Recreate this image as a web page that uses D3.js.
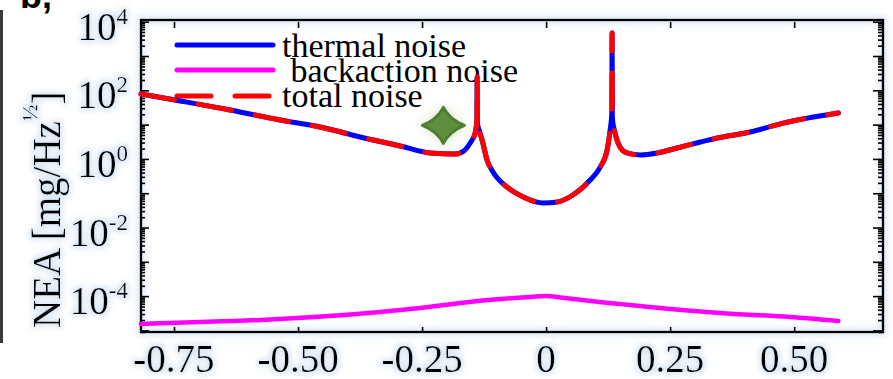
<!DOCTYPE html>
<html><head><meta charset="utf-8">
<script src="https://cdn.jsdelivr.net/npm/d3@7/dist/d3.min.js"></script>
<style>
html,body{margin:0;padding:0;background:#fff;}
svg{display:block;}
text{font-family:"Liberation Serif","Times New Roman",serif;fill:#000;}
</style></head>
<body>
<svg id="chart" width="893" height="379"></svg>
<script>
// ---- data ----
const detuning = [-0.8165,-0.748,-0.637,-0.536,-0.456,-0.375,-0.294,-0.234,-0.183,-0.169,-0.153,-0.143,-0.1395,-0.139,-0.1385,-0.134,-0.129,-0.119,-0.107,-0.079,-0.046,-0.006,0.022,0.054,0.089,0.109,0.123,0.129,0.1325,0.133,0.1335,0.139,0.149,0.163,0.190,0.224,0.264,0.345,0.411,0.478,0.589];
const thermalNoise = [78.2,52.2,26.7,13.6,8.5,4.36,2.38,1.49,1.39,1.59,2.91,5.70,13.6,244,11,6.2,3.56,0.93,0.415,0.152,0.0776,0.0519,0.0555,0.0887,0.243,0.581,1.82,6.97,21.8,4690,15,5.70,2.23,1.49,1.30,1.49,2.08,4.07,6.10,11.1,21.8];
const totalNoise = [78.2,52.2,26.7,13.6,8.5,4.36,2.38,1.49,1.39,1.59,2.91,5.70,13.6,244,11,6.2,3.56,0.93,0.415,0.152,0.0776,0.0519,0.0555,0.0887,0.243,0.581,1.82,6.97,21.8,4690,15,5.70,2.23,1.49,1.30,1.49,2.08,4.07,6.10,11.1,21.8];
const backDetuning = [-0.8165,-0.335,-0.254,-0.173,-0.093,-0.032,0,0.038,0.089,0.169,0.250,0.351,0.492,0.589];
const backactionNoise = [1.54e-5,3.44e-5,4.50e-5,6.31e-5,8.24e-5,9.42e-5,1.007e-4,8.81e-5,7.19e-5,5.50e-5,4.21e-5,3.22e-5,2.46e-5,1.88e-5];
const xTicks = [-0.75,-0.5,-0.25,0,0.25,0.5];
const xTickLabels = ["-0.75","-0.50","-0.25","0","0.25","0.50"];
const yLabelExps = [4,2,0,-2,-4];
const seriesNames = ["thermal noise"," backaction noise","total noise"];
const markerPoint = [-0.207, 9.5];

// ---- layout ----
const svg = d3.select("#chart");
const L = 141, R = 883, T = 20, B = 332;
const x = d3.scaleLinear().domain([-0.8165, 0.679]).range([L, R]);
const y = d3.scaleLog().domain([Math.pow(10,-5.046), Math.pow(10,4.05)]).range([B, T]);

const defs = svg.append("defs");
const glow = defs.append("filter").attr("id","glow").attr("x","-20%").attr("y","-30%").attr("width","140%").attr("height","160%");
glow.append("feMorphology").attr("in","SourceAlpha").attr("operator","dilate").attr("radius",2).attr("result","d");
glow.append("feGaussianBlur").attr("in","d").attr("stdDeviation",3).attr("result","b");
glow.append("feFlood").attr("flood-color","#c9dbef").attr("flood-opacity",0.75);
glow.append("feComposite").attr("in2","b").attr("operator","in").attr("result","g");
const gm = glow.append("feMerge");
gm.append("feMergeNode").attr("in","g");
gm.append("feMergeNode").attr("in","SourceGraphic");

const starGlow = defs.append("filter").attr("id","sglow").attr("x","-80%").attr("y","-80%").attr("width","260%").attr("height","260%");
starGlow.append("feGaussianBlur").attr("in","SourceAlpha").attr("stdDeviation",6).attr("result","b");
starGlow.append("feFlood").attr("flood-color","#9dbb7a").attr("flood-opacity",0.45);
starGlow.append("feComposite").attr("in2","b").attr("operator","in").attr("result","g");
const sm = starGlow.append("feMerge");
sm.append("feMergeNode").attr("in","g");
sm.append("feMergeNode").attr("in","SourceGraphic");

// left panel bar and panel letter
svg.append("rect").attr("x",0).attr("y",10).attr("width",3).attr("height",333).attr("fill","#3a3a3a");
svg.append("text").attr("x",20).attr("y",8).attr("font-size",36).attr("font-weight","bold")
  .style("font-family","'Liberation Sans',Arial,sans-serif").text("b,");

// frame
svg.append("rect").attr("x",L).attr("y",T).attr("width",R-L).attr("height",B-T)
  .attr("fill","none").attr("stroke","#000").attr("stroke-width",2.5).attr("filter","url(#glow)");

// axes ticks
const decades = d3.range(-5,5).map(e=>Math.pow(10,e)).filter(v=>v>=y.domain()[0]&&v<=y.domain()[1]);
const minors = [];
for (let e=-6;e<=4;e++) for (let k=2;k<=9;k++){const v=k*Math.pow(10,e); if(v>=y.domain()[0]&&v<=y.domain()[1]) minors.push(v);}
const tickStyle = g => { g.select(".domain").remove(); g.selectAll("line").attr("stroke","#000").attr("stroke-width",1.6); g.selectAll("text").remove(); };
svg.append("g").attr("transform",`translate(${L},0)`).call(d3.axisLeft(y).tickValues(decades).tickSize(-8)).call(tickStyle);
svg.append("g").attr("transform",`translate(${L},0)`).call(d3.axisLeft(y).tickValues(minors).tickSize(-4)).call(tickStyle);
svg.append("g").attr("transform",`translate(${R},0)`).call(d3.axisRight(y).tickValues(decades).tickSize(-10)).call(tickStyle);
svg.append("g").attr("transform",`translate(${R},0)`).call(d3.axisRight(y).tickValues(minors).tickSize(-5)).call(tickStyle);
svg.append("g").attr("transform",`translate(0,${B})`).call(d3.axisBottom(x).tickValues(xTicks).tickSize(-5)).call(tickStyle);
svg.append("g").attr("transform",`translate(0,${T+2})`).call(d3.axisTop(x).tickValues(xTicks).tickSize(-6)).call(tickStyle);

// x tick labels
svg.append("g").selectAll("text").data(xTicks).join("text")
  .attr("x",d=>x(d)).attr("y",372).attr("text-anchor","middle").attr("font-size",39)
  .attr("filter","url(#glow)")
  .text((d,i)=>xTickLabels[i]);

// y tick labels
const yl = svg.append("g").selectAll("text").data(yLabelExps).join("text")
  .attr("x",128).attr("y",d=>y(Math.pow(10,d))+18).attr("text-anchor","end").attr("font-size",39)
  .attr("filter","url(#glow)");
yl.append("tspan").text("10");
yl.append("tspan").attr("font-size",23).attr("dy",-16).text(d=>String(d));

// y title
const yt = svg.append("text").attr("transform","translate(60,328) rotate(-90)").attr("font-size",39)
  .attr("filter","url(#glow)");
yt.append("tspan").text("NEA [mg/Hz");
yt.append("tspan").attr("font-size",22).attr("dy",-23).text("½");
yt.append("tspan").attr("dy",23).text("]");

// legend
const legColors = ["#0000ff","#ff00ff","#ff0000"];
const legY = [45,70,96];
const legTextX = [282,282,282];
const legTextY = [57,82,107];
seriesNames.forEach((n,i)=>{
  svg.append("line").attr("x1",177).attr("x2",273).attr("y1",legY[i]).attr("y2",legY[i])
    .attr("stroke",legColors[i]).attr("stroke-width",5).attr("stroke-linecap","round")
    .attr("stroke-dasharray", i===2 ? "34,24" : null);
  svg.append("text").attr("x",legTextX[i]).attr("y",legTextY[i]).attr("font-size",34)
    .style("white-space","pre").attr("xml:space","preserve").text(n);
});

// curves
const line = d3.line().x(d=>x(d[0])).y(d=>y(d[1])).curve(d3.curveMonotoneX);
const thermalPts = detuning.map((d,i)=>[d,thermalNoise[i]]);
const totalPts = detuning.map((d,i)=>[d,totalNoise[i]]);
const backPts = backDetuning.map((d,i)=>[d,backactionNoise[i]]);

svg.append("path").attr("d",line(backPts)).attr("fill","none").attr("stroke","#ff00ff")
  .attr("stroke-width",4.5).attr("stroke-linecap","round").attr("stroke-linejoin","round");
svg.append("path").attr("d",line(thermalPts)).attr("fill","none").attr("stroke","#0000ff")
  .attr("stroke-width",5).attr("stroke-linecap","round").attr("stroke-linejoin","round");
svg.append("path").attr("d",line(totalPts)).attr("fill","none").attr("stroke","#ff0000")
  .attr("stroke-width",5).attr("stroke-linecap","round").attr("stroke-linejoin","round")
  .attr("stroke-dasharray","34,24");

// star marker
svg.append("path")
  .attr("transform",`translate(${x(markerPoint[0])},${y(markerPoint[1])})`)
  .attr("d","M0,-18 Q6,-6 21,0 Q6,6 0,18 Q-6,6 -21,0 Q-6,-6 0,-18Z")
  .attr("fill","#5f8f3c").attr("stroke","#4f7d30").attr("stroke-width",3)
  .attr("stroke-linejoin","round").attr("filter","url(#sglow)");
</script>
</body></html>
